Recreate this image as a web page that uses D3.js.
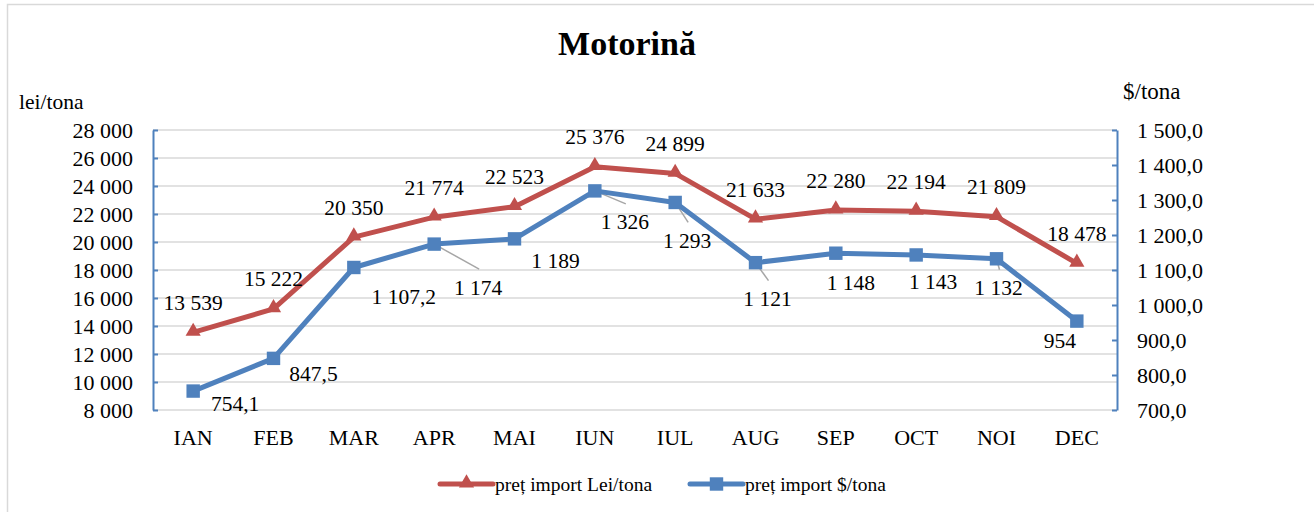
<!DOCTYPE html>
<html>
<head>
<meta charset="utf-8">
<script src="https://cdn.jsdelivr.net/npm/d3@7"></script>
<style>
  body { margin: 0; background: #fff; }
  svg { display: block; font-family: "Liberation Serif", "Times New Roman", serif; }
</style>
</head>
<body>
<div id="chart"></div>
<script>
const months = ["IAN", "FEB", "MAR", "APR", "MAI", "IUN", "IUL", "AUG", "SEP", "OCT", "NOI", "DEC"]
const priceLei = [13539, 15222, 20350, 21774, 22523, 25376, 24899, 21633, 22280, 22194, 21809, 18478]
const priceUsd = [754.1, 847.5, 1107.2, 1174, 1189, 1326, 1293, 1121, 1148, 1143, 1132, 954]
const leiTicks = [8000, 10000, 12000, 14000, 16000, 18000, 20000, 22000, 24000, 26000, 28000]
const usdTicks = [700, 800, 900, 1000, 1100, 1200, 1300, 1400, 1500]
const seriesNames = ["preț import Lei/tona", "preț import $/tona"]

// where Excel put the $ labels (dx, dy from the marker) and which ones have a leader line
const usdLabelOffsets = [[42, 12], [40, 15], [50, 29], [44, 43], [41, 22], [30, 31], [12, 38], [12, 36], [15, 29], [17, 27], [2, 29], [-17, 19]]
const usdLeader = [false, false, false, true, false, true, true, true, false, false, true, false]

const red = "#c0504d"
const blue = "#4f81bd"
const fs = 21.5

const locale = d3.formatLocale({ decimal: ",", thousands: " ", grouping: [3], currency: ["", ""] })
const fmtInt = locale.format(",d")
const fmtDec = locale.format(",.1f")

const width = 1314
const height = 512
const plot = { left: 153, right: 1117, top: 130, bottom: 410 }

const svg = d3.select("#chart").append("svg")
  .attr("width", width)
  .attr("height", height)

// chart frame (only top and left edges are visible in the crop)
svg.append("path")
  .attr("d", `M7.5,${height} V4.5 H${width}`)
  .attr("fill", "none")
  .attr("stroke", "#d9d9d9")
  .attr("stroke-width", 1.5)

const x = d3.scaleBand().domain(months).range([plot.left, plot.right])
const cx = m => x(m) + x.bandwidth() / 2
const yLei = d3.scaleLinear().domain([8000, 28000]).range([plot.bottom, plot.top])
const yUsd = d3.scaleLinear().domain([700, 1500]).range([plot.bottom, plot.top])

svg.append("text")
  .attr("x", 627).attr("y", 55)
  .attr("text-anchor", "middle")
  .attr("font-weight", "bold")
  .attr("font-size", 34)
  .text("Motorină")

// gridlines
svg.append("g")
  .selectAll("line")
  .data(leiTicks)
  .enter().append("line")
  .attr("x1", plot.left).attr("x2", plot.right)
  .attr("y1", d => yLei(d)).attr("y2", d => yLei(d))
  .attr("stroke", "#d9d9d9")
  .attr("stroke-width", 1.5)

const leftAxis = svg.append("g")
  .attr("transform", `translate(${plot.left},0)`)
  .call(d3.axisLeft(yLei).tickValues(leiTicks).tickFormat(d => fmtInt(d)).tickSizeInner(-5).tickSizeOuter(0).tickPadding(20))

const rightAxis = svg.append("g")
  .attr("transform", `translate(${plot.right},0)`)
  .call(d3.axisRight(yUsd).tickValues(usdTicks).tickFormat(d => fmtDec(d)).tickSizeInner(-5).tickSizeOuter(0).tickPadding(20))

;[leftAxis, rightAxis].forEach(g => {
  g.select(".domain").attr("stroke", blue).attr("stroke-width", 2)
  g.selectAll(".tick line").attr("stroke", blue).attr("stroke-width", 2)
  g.selectAll(".tick text")
    .attr("font-family", "Liberation Serif, Times New Roman, serif")
    .attr("font-size", 22)
    .attr("fill", "#000")
    .attr("dy", "0.35em")
})

svg.append("text").attr("x", 19).attr("y", 109).attr("font-size", 21.5).text("lei/tona")
svg.append("text").attr("x", 1123).attr("y", 99).attr("font-size", 23).text("$/tona")

// month labels
svg.append("g")
  .selectAll("text")
  .data(months)
  .enter().append("text")
  .attr("x", d => cx(d))
  .attr("y", 445)
  .attr("text-anchor", "middle")
  .attr("font-size", 22)
  .text(d => d)

const leiPoints = months.map((m, i) => ({ m, v: priceLei[i], i }))
const usdPoints = months.map((m, i) => ({ m, v: priceUsd[i], i }))

const lineLei = d3.line().x(d => cx(d.m)).y(d => yLei(d.v))
const lineUsd = d3.line().x(d => cx(d.m)).y(d => yUsd(d.v))

// leader lines for $ labels
svg.append("g")
  .selectAll("line")
  .data(usdPoints.filter(d => usdLeader[d.i]))
  .enter().append("line")
  .attr("x1", d => cx(d.m)).attr("y1", d => yUsd(d.v))
  .attr("x2", d => cx(d.m) + usdLabelOffsets[d.i][0] + 1)
  .attr("y2", d => yUsd(d.v) + usdLabelOffsets[d.i][1] - 18)
  .attr("stroke", "#a6a6a6")
  .attr("stroke-width", 1.5)

svg.append("path").datum(leiPoints)
  .attr("d", lineLei).attr("fill", "none")
  .attr("stroke", red).attr("stroke-width", 5).attr("stroke-linejoin", "round")

svg.append("path").datum(usdPoints)
  .attr("d", lineUsd).attr("fill", "none")
  .attr("stroke", blue).attr("stroke-width", 5).attr("stroke-linejoin", "round")

const tri = d3.symbol().type(d3.symbolTriangle).size(100)
const sq = d3.symbol().type(d3.symbolSquare).size(180)

svg.append("g").selectAll("path")
  .data(leiPoints).enter().append("path")
  .attr("d", tri)
  .attr("transform", d => `translate(${cx(d.m)},${yLei(d.v) - 1})`)
  .attr("fill", red)

svg.append("g").selectAll("path")
  .data(usdPoints).enter().append("path")
  .attr("d", sq)
  .attr("transform", d => `translate(${cx(d.m)},${yUsd(d.v)})`)
  .attr("fill", blue)

// data labels
svg.append("g").selectAll("text")
  .data(leiPoints).enter().append("text")
  .attr("x", d => cx(d.m))
  .attr("y", d => yLei(d.v) - 30)
  .attr("dy", "0.35em")
  .attr("text-anchor", "middle")
  .attr("font-size", fs)
  .text(d => fmtInt(d.v))

svg.append("g").selectAll("text")
  .data(usdPoints).enter().append("text")
  .attr("x", d => cx(d.m) + usdLabelOffsets[d.i][0])
  .attr("y", d => yUsd(d.v) + usdLabelOffsets[d.i][1])
  .attr("dy", "0.35em")
  .attr("text-anchor", "middle")
  .attr("font-size", fs)
  .text(d => Number.isInteger(d.v) ? fmtInt(d.v) : fmtDec(d.v))

// legend
const legend = svg.append("g").attr("transform", "translate(0,484)")
const legendItems = [
  { name: seriesNames[0], color: red, shape: tri, x0: 440 },
  { name: seriesNames[1], color: blue, shape: sq, x0: 690 }
]
legendItems.forEach(it => {
  legend.append("line")
    .attr("x1", it.x0).attr("x2", it.x0 + 53)
    .attr("stroke", it.color).attr("stroke-width", 5).attr("stroke-linecap", "round")
  legend.append("path")
    .attr("d", it.shape)
    .attr("transform", `translate(${it.x0 + 26.5},${it.shape === tri ? -1 : 0})`)
    .attr("fill", it.color)
  legend.append("text")
    .attr("x", it.x0 + 55).attr("y", 7)
    .attr("font-size", 19.5)
    .text(it.name)
})
</script>
</body>
</html>
